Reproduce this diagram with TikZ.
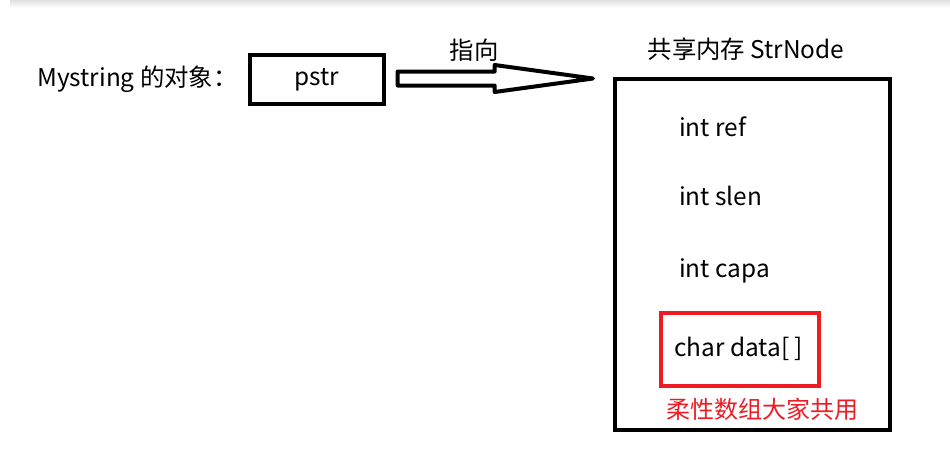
\documentclass[tikz,border=0pt]{standalone}
\usepackage{fontspec}
\setmainfont{Noto Sans CJK SC}
\usetikzlibrary{calc}
\definecolor{myred}{HTML}{ED1C24}
\begin{document}
\begin{tikzpicture}[x=0.75pt,y=-0.75pt,
  txt/.style={inner sep=0pt,font=\fontsize{18.3}{21}\selectfont},
  thickbox/.style={draw=black,line width=3pt},
  redbox/.style={draw=myred,line width=3pt},
  hollowarrow/.style={draw=black,line width=3pt,line join=round,fill=white}]
\useasboundingbox (0,0) rectangle (950,475);
% faint top shadow
\shade[top color=black!12,bottom color=white] (10,0) rectangle (950,8);
\node[txt,anchor=west] (obj) at (37,79) {Mystring 的对象：};
\node[thickbox,minimum width=100pt,minimum height=37pt,inner sep=0pt] (pbox) at (317,79.5) {};
\node[txt] (pstr) at (pbox.center) {pstr};
\node[thickbox,minimum width=206pt,minimum height=263.5pt,inner sep=0pt,anchor=north west] (mem) at (613,77) {};
\node[txt] (title) at (746,49) {共享内存 StrNode};
\node[txt,anchor=west] (ref) at (679,127) {int ref};
\node[txt,anchor=west] (slen) at (679,196) {int slen};
\node[txt,anchor=west] (capa) at (679,271) {int capa};
\node[redbox,minimum width=119pt,minimum height=54.5pt,inner sep=0pt,anchor=north west] (rbox) at (658.5,311) {};
\node[txt,anchor=west] (data) at (674,349) {char data[ ]};
\node[txt,anchor=west,text=myred,font=\fontsize{18}{21}\selectfont] (note) at (666,409) {柔性数组大家共用};
% hollow block arrow
\coordinate (as) at ($(pbox.east)+(12,-1)$);
\coordinate (at) at (593,78.5);
\draw[hollowarrow] ($(as)+(0,-7)$) -- ($(as)+(97,-7)$) -- ($(as)+(97,-13.5)$) -- (at)
  -- ($(as)+(97,13.5)$) -- ($(as)+(97,7)$) -- ($(as)+(0,7)$) -- cycle;
\node[txt] (lbl) at (474,50) {指向};
\end{tikzpicture}
\end{document}
